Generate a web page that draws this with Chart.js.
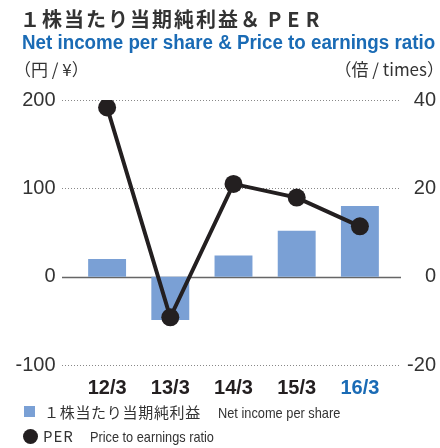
<!DOCTYPE html>
<html>
<head>
<meta charset="utf-8">
<script src="https://cdn.jsdelivr.net/npm/chart.js@4"></script>
<style>
  body { margin: 0; background: #fff; }
  #wrap { position: relative; width: 440px; height: 448px; overflow: hidden; }
  #chart { position: absolute; left: 0; top: 0; }
  .t { position: absolute; white-space: nowrap; }
  .jp { font-family: "Noto Sans CJK JP", "Noto Sans CJK SC", sans-serif; }
  .narrow { font-family: "Liberation Sans Narrow", "Liberation Sans", sans-serif; transform-origin: 0 0; }
</style>
</head>
<body>
<div id="wrap">
  <canvas id="chart" width="440" height="448"></canvas>
  <div class="t jp" style="left:20px;top:5px;font-size:20px;line-height:28px;font-weight:bold;color:#333;letter-spacing:2px;">１株当たり当期純利益＆<span style="letter-spacing:6px;margin-left:6px;">PER</span></div>
  <div class="t narrow fit" data-w="413" style="left:22px;top:30px;font-size:20px;line-height:24px;font-weight:bold;color:#1a6bb5;">Net income per share &amp; Price to earnings ratio</div>
  <div class="t jp" style="left:14px;top:57px;font-size:17px;line-height:24px;color:#333;">（円 / ¥）</div>
  <div class="t jp" style="right:-4px;top:57px;font-size:17px;line-height:24px;color:#333;">（倍 / times）</div>

  <div class="t" style="left:24px;top:406px;width:11px;height:11px;background:#7aa0d5;"></div>
  <div class="t jp" style="left:44px;top:401px;font-size:15px;line-height:22px;color:#333;letter-spacing:0.7px;">１株当たり当期純利益</div>
  <div class="t narrow fit" data-w="122" style="left:218px;top:402px;font-size:15px;line-height:22px;color:#333;">Net income per share</div>

  <div class="t" style="left:23px;top:429px;width:15px;height:15px;border-radius:50%;background:#231f20;"></div>
  <div class="t jp" style="left:43px;top:425px;font-size:15px;line-height:22px;color:#333;letter-spacing:1px;">PER</div>
  <div class="t narrow fit" data-w="124" style="left:90px;top:426px;font-size:15px;line-height:22px;color:#333;">Price to earnings ratio</div>
</div>

<script>
const categories = ['12/3', '13/3', '14/3', '15/3', '16/3'];
const netIncomePerShare = [20, -49, 24, 52, 80];
const per = [38.3, -9.2, 21.0, 17.9, 11.4];
const leftTicks = [-100, 0, 100, 200];
const rightTicks = [-20, 0, 20, 40];

// the print uses a condensed face, squeeze the latin lines to their printed width
document.querySelectorAll('.fit').forEach(function (el) {
  el.style.transform = 'scaleX(' + (Number(el.dataset.w) / el.offsetWidth) + ')';
});

// dotted guide lines run a bit wider than the bars
const guideLines = {
  id: 'guideLines',
  beforeDatasetsDraw(chart) {
    const ctx = chart.ctx;
    const y = chart.scales.y;
    ctx.save();
    leftTicks.forEach(function (v) {
      const py = Math.round(y.getPixelForValue(v)) + 0.5;
      ctx.beginPath();
      if (v === 0) {
        ctx.setLineDash([]);
        ctx.strokeStyle = '#666';
        ctx.lineWidth = 1.5;
      } else {
        ctx.setLineDash([1, 2]);
        ctx.strokeStyle = '#888';
        ctx.lineWidth = 1;
      }
      ctx.moveTo(62, py);
      ctx.lineTo(401, py);
      ctx.stroke();
    });
    ctx.restore();
  }
};

const tickFont = { family: '"Liberation Sans", Arial, sans-serif', size: 20 };

new Chart(document.getElementById('chart').getContext('2d'), {
  data: {
    labels: categories,
    datasets: [{
      type: 'line',
      label: 'PER',
      data: per,
      yAxisID: 'y1',
      borderColor: '#231f20',
      backgroundColor: '#231f20',
      borderWidth: 4,
      pointRadius: 9,
      pointBorderWidth: 0,
      tension: 0,
      order: 0
    }, {
      type: 'bar',
      label: '１株当たり当期純利益',
      data: netIncomePerShare,
      yAxisID: 'y',
      backgroundColor: '#7aa0d5',
      categoryPercentage: 1,
      barPercentage: 0.6,
      order: 1
    }]
  },
  options: {
    responsive: false,
    animation: false,
    layout: { padding: { top: 100, right: 4, left: 0, bottom: 0 } },
    plugins: { legend: { display: false }, tooltip: { enabled: false } },
    scales: {
      x: {
        grid: { display: false, drawTicks: false },
        border: { display: false },
        ticks: {
          padding: 11,
          font: { family: '"Liberation Sans", Arial, sans-serif', size: 20, weight: 'bold' },
          color: function (c) { return c.index === 4 ? '#1a6bb5' : '#231f20'; }
        },
        afterFit: function (s) { s.height = 83; }
      },
      y: {
        position: 'left',
        min: -100,
        max: 200,
        afterBuildTicks: function (s) { s.ticks = leftTicks.map(function (v) { return { value: v }; }); },
        grid: { display: false, drawTicks: false },
        border: { display: false },
        ticks: { padding: 20, font: tickFont, color: '#333' },
        afterFit: function (s) { s.width = 75.5; }
      },
      y1: {
        position: 'right',
        min: -20,
        max: 40,
        afterBuildTicks: function (s) { s.ticks = rightTicks.map(function (v) { return { value: v }; }); },
        grid: { display: false, drawTicks: false },
        border: { display: false },
        ticks: { crossAlign: 'far', font: tickFont, color: '#333' },
        afterFit: function (s) { s.width = 44.5; }
      }
    }
  },
  plugins: [guideLines]
});
</script>
</body>
</html>
